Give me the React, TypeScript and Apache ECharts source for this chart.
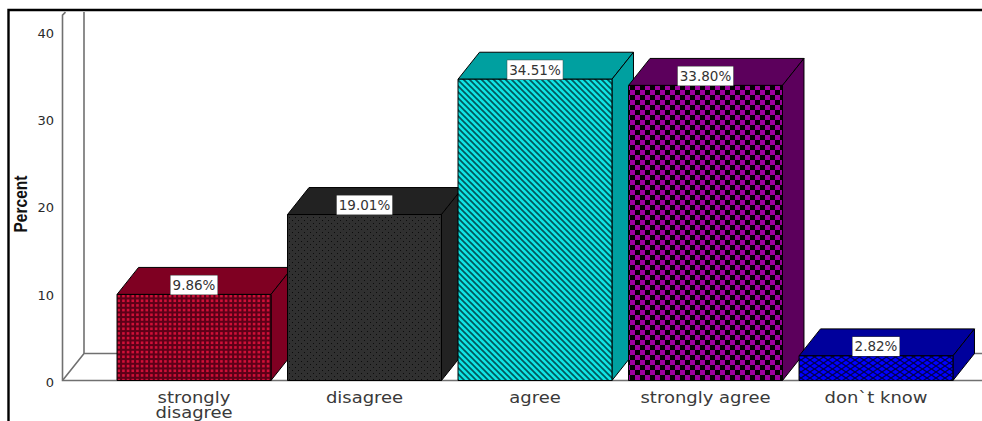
import React, { useEffect, useRef } from "react";
import * as echarts from "echarts";

const categories = ["strongly\ndisagree", "disagree", "agree", "strongly agree", "don`t know"];
const percents = [9.86, 19.01, 34.51, 33.8, 2.82];
const yTicks = [0, 10, 20, 30, 40];
const faceColors = ["#7f0022", "#222222", "#00a0a0", "#5c005c", "#00009c"];
const hatchKinds = ["grid", "dots", "stripes", "checks", "mesh"];

const DEPTH_X = 21.5;
const DEPTH_Y = 27;
const WALL_TOP = 42.2;
const WALL_FRONT_GAP = 46.25;

function tile(w: number, h: number, draw: (c: CanvasRenderingContext2D) => void) {
  const cv = document.createElement("canvas");
  cv.width = w;
  cv.height = h;
  draw(cv.getContext("2d") as CanvasRenderingContext2D);
  return cv;
}

function lineOn(c: CanvasRenderingContext2D, x0: number, y0: number, x1: number, y1: number) {
  c.beginPath();
  c.moveTo(x0, y0);
  c.lineTo(x1, y1);
  c.stroke();
}

// Hatch fills for the bars' front faces
function makeHatch(kind: string) {
  if (kind === "grid") {
    return tile(14, 14, (c) => {
      c.fillStyle = "#5c0018";
      c.fillRect(0, 0, 14, 14);
      c.fillStyle = "#d01038";
      const step = 14 / 3;
      for (let i = 0; i < 3; i++)
        for (let j = 0; j < 3; j++) c.fillRect(i * step + 0.8, j * step + 0.8, 2.6, 2.6);
    });
  }
  if (kind === "dots") {
    return tile(6, 6, (c) => {
      c.fillStyle = "#303030";
      c.fillRect(0, 0, 6, 6);
      c.fillStyle = "#0c0c0c";
      c.fillRect(1, 1, 1, 1);
      c.fillRect(4, 4, 1, 1);
    });
  }
  if (kind === "stripes") {
    return tile(6, 6, (c) => {
      c.fillStyle = "#10e4e4";
      c.fillRect(0, 0, 6, 6);
      c.strokeStyle = "#00585c";
      c.lineWidth = 1.7;
      lineOn(c, -6, 0, 6, 12);
      lineOn(c, 0, 0, 6, 6);
      lineOn(c, 0, -6, 12, 6);
    });
  }
  if (kind === "checks") {
    return tile(10, 10, (c) => {
      c.fillStyle = "#050005";
      c.fillRect(0, 0, 10, 10);
      c.fillStyle = "#a000a0";
      c.fillRect(0, 0, 5, 5);
      c.fillRect(5, 5, 5, 5);
    });
  }
  return tile(9, 6, (c) => {
    c.fillStyle = "#0000ff";
    c.fillRect(0, 0, 9, 6);
    c.strokeStyle = "#000050";
    c.lineWidth = 1.2;
    lineOn(c, 0, 0, 9, 6);
    lineOn(c, 0, 6, 9, 0);
    lineOn(c, -9, 0, 9, 12);
    lineOn(c, 0, -6, 18, 6);
    lineOn(c, 9, 6, 0, 12);
  });
}

export default function App() {
  const ref = useRef<HTMLDivElement>(null);

  useEffect(() => {
    const chart = echarts.init(ref.current as HTMLDivElement, undefined, { renderer: "svg" });
    const hatches = hatchKinds.map(makeHatch);

    chart.setOption({
      animation: false,
      backgroundColor: "#ffffff",
      grid: { left: 108.75, right: 20.75, top: 31.3, bottom: 40.5, outerBoundsMode: "none" },
      xAxis: {
        type: "category",
        data: categories,
        axisLine: { show: false },
        axisTick: { show: false },
        axisLabel: { show: false },
      },
      yAxis: {
        type: "value",
        min: yTicks[0],
        max: yTicks[yTicks.length - 1],
        interval: 10,
        offset: 46.75,
        splitLine: { show: false },
        axisLine: { show: false },
        axisTick: { show: false },
        axisLabel: {
          margin: 8,
          formatter: "{tick|{value}}",
          rich: {
            tick: {
              padding: [4, 0, 0, 0],
              fontFamily: "DejaVu Sans",
              fontSize: 13,
              color: "#2a2a2a",
            },
          },
        },
      },
      graphic: [
        {
          type: "polyline",
          silent: true,
          shape: { points: [[8.5, 421], [8.5, 10], [982, 10]] },
          style: { fill: "none", stroke: "#000000", lineWidth: 2.4 },
        },
        {
          type: "text",
          silent: true,
          x: 20,
          y: 204,
          rotation: Math.PI / 2,
          scaleX: 0.82,
          style: {
            text: "Percent",
            align: "center",
            verticalAlign: "middle",
            fontFamily: "Liberation Sans",
            fontWeight: "bold",
            fontSize: 19,
            fill: "#111111",
          },
        },
      ],
      series: [
        {
          // Open box behind the bars: side wall, back wall and floor
          type: "custom",
          coordinateSystem: "cartesian2d",
          clip: false,
          silent: true,
          z: 1,
          data: [[0, 0]],
          renderItem: (params: any, api: any) => {
            const base = api.coord([0, 0])[1];
            const top = api.coord([0, WALL_TOP])[1];
            const grid = params.coordSys;
            const fx = grid.x - WALL_FRONT_GAP;
            const bx = fx + DEPTH_X;
            const end = grid.x + grid.width + 20.75;
            const stroke = { fill: "none", stroke: "#707070", lineWidth: 1.6 };
            return {
              type: "group",
              children: [
                {
                  type: "polyline",
                  shape: { points: [[end, base], [fx, base], [fx, top + 3], [fx + 3, top]] },
                  style: stroke,
                },
                {
                  type: "polyline",
                  shape: { points: [[fx, base], [bx, base - DEPTH_Y], [end, base - DEPTH_Y]] },
                  style: stroke,
                },
                {
                  type: "line",
                  shape: { x1: bx, y1: base - DEPTH_Y, x2: bx, y2: top },
                  style: stroke,
                },
              ],
            };
          },
        },
        {
          // 3-D bars: top and side faces, hatched front, value tag, category caption
          type: "custom",
          coordinateSystem: "cartesian2d",
          clip: false,
          silent: true,
          z: 2,
          encode: { x: 0, y: 1 },
          data: percents.map((v, i) => [i, v]),
          renderItem: (params: any, api: any) => {
            const i = api.value(0);
            const v = api.value(1);
            const [cx, yTop] = api.coord([i, v]);
            const yBase = api.coord([i, 0])[1];
            const w = api.size([1, 0])[0] * 0.903;
            const l = cx - w / 2;
            const r = cx + w / 2;
            const edge = { stroke: "#000000", lineWidth: 1 };
            const face = faceColors[i];
            return {
              type: "group",
              children: [
                {
                  type: "polygon",
                  shape: {
                    points: [
                      [l, yTop],
                      [l + DEPTH_X, yTop - DEPTH_Y],
                      [r + DEPTH_X, yTop - DEPTH_Y],
                      [r, yTop],
                    ],
                  },
                  style: { fill: face, ...edge },
                },
                {
                  type: "polygon",
                  shape: {
                    points: [
                      [r, yTop],
                      [r + DEPTH_X, yTop - DEPTH_Y],
                      [r + DEPTH_X, yBase - DEPTH_Y],
                      [r, yBase],
                    ],
                  },
                  style: { fill: face, ...edge },
                },
                {
                  type: "rect",
                  shape: { x: l, y: yTop, width: w, height: yBase - yTop },
                  style: { fill: { image: hatches[i], repeat: "repeat" }, ...edge },
                },
                {
                  type: "text",
                  x: cx,
                  y: yTop - 9.5,
                  style: {
                    text: `${v.toFixed(2)}%`,
                    align: "center",
                    verticalAlign: "middle",
                    fontFamily: "DejaVu Sans",
                    fontSize: 13.5,
                    fill: "#333333",
                    backgroundColor: "#ffffff",
                    borderColor: "#444444",
                    borderWidth: 0.5,
                    padding: [3, 2, 2, 2],
                  },
                },
                {
                  type: "text",
                  x: cx,
                  y: yBase + 9,
                  scaleX: 1.16,
                  style: {
                    text: categories[i],
                    align: "center",
                    verticalAlign: "top",
                    fontFamily: "DejaVu Sans",
                    fontSize: 15.5,
                    lineHeight: 15.5,
                    fill: "#3a3a3a",
                  },
                },
              ],
            };
          },
        },
      ],
    });

    return () => chart.dispose();
  }, []);

  return (
    <div
      ref={ref}
      style={{ position: "absolute", left: 0, top: 0, width: 982, height: 421 }}
    />
  );
}
